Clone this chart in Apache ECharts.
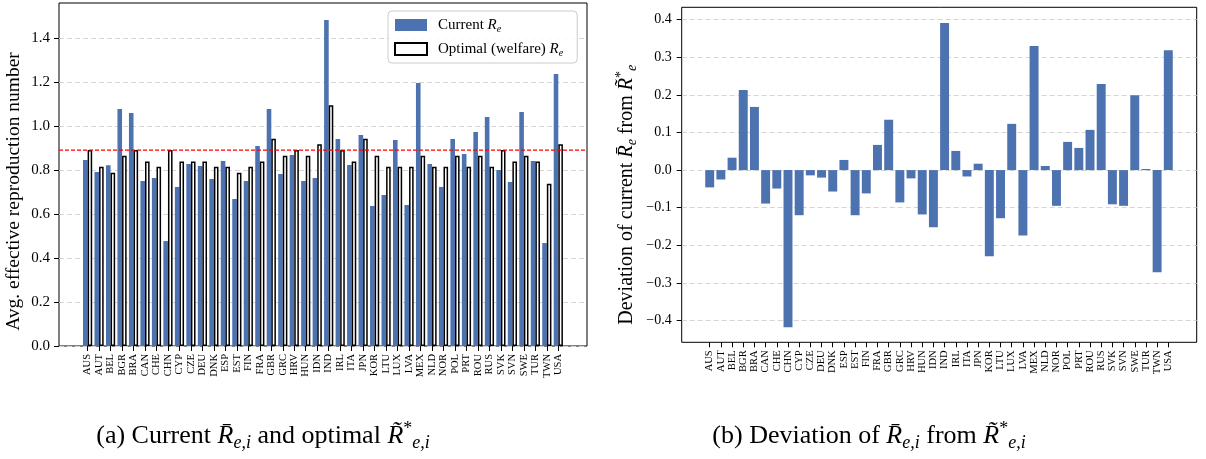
<!DOCTYPE html>
<html>
<head>
<meta charset="utf-8">
<script src="https://cdn.jsdelivr.net/npm/echarts@6/dist/echarts.min.js"></script>
<style>
html,body{margin:0;padding:0;background:#fff;}
#chart{width:1206px;height:459px;}
</style>
</head>
<body>
<div id="chart"></div>
<script>
const countries = ['AUS','AUT','BEL','BGR','BRA','CAN','CHE','CHN','CYP','CZE','DEU','DNK','ESP','EST','FIN','FRA','GBR','GRC','HRV','HUN','IDN','IND','IRL','ITA','JPN','KOR','LTU','LUX','LVA','MEX','NLD','NOR','POL','PRT','ROU','RUS','SVK','SVN','SWE','TUR','TWN','USA'];
const currentRe = [0.845,0.791,0.821,1.077,1.059,0.750,0.764,0.477,0.723,0.827,0.818,0.759,0.841,0.668,0.750,0.909,1.077,0.782,0.868,0.750,0.764,1.482,0.941,0.823,0.959,0.636,0.686,0.936,0.641,1.195,0.827,0.723,0.941,0.873,0.973,1.041,0.800,0.745,1.064,0.841,0.468,1.236];
const optimalRe = [0.891,0.815,0.788,0.865,0.891,0.839,0.815,0.891,0.839,0.839,0.839,0.815,0.815,0.788,0.815,0.839,0.942,0.865,0.891,0.865,0.917,1.094,0.891,0.839,0.942,0.865,0.815,0.815,0.815,0.865,0.815,0.815,0.865,0.815,0.865,0.815,0.891,0.839,0.865,0.839,0.738,0.917];
const deviation = [-0.046,-0.025,0.033,0.213,0.168,-0.089,-0.049,-0.418,-0.120,-0.014,-0.020,-0.057,0.027,-0.120,-0.062,0.067,0.134,-0.086,-0.022,-0.118,-0.152,0.391,0.051,-0.017,0.017,-0.229,-0.128,0.123,-0.174,0.330,0.011,-0.095,0.075,0.059,0.107,0.229,-0.091,-0.095,0.199,0.003,-0.272,0.319];
const thresholdRe = 0.89;
const leftTicks = [0,0.2,0.4,0.6,0.8,1.0,1.2,1.4];
const rightTicks = [-0.4,-0.3,-0.2,-0.1,0,0.1,0.2,0.3,0.4];

const SERIF = 'Liberation Serif';
const BLUE = '#4c72b0';
const gridLine = {show:true, lineStyle:{color:'#d4d4d4', type:[5,3], width:1}};
const fmtNum = v => (v < -1e-9 ? '\u2212' : '') + Math.abs(v).toFixed(1);

const mathRich = (fs, extra) => ({
  n:{fontFamily:SERIF, fontWeight:'normal', fontSize:fs, color:'#000', lineHeight:Math.round(fs*1.25)},
  i:{fontFamily:SERIF, fontWeight:'normal', fontStyle:'italic', fontSize:fs, color:'#000', lineHeight:Math.round(fs*1.25)},
  s:{fontFamily:SERIF, fontWeight:'normal', fontStyle:'italic', fontSize:Math.round(fs*0.68), color:'#000', lineHeight:Math.round(fs*0.7), padding:[Math.round(fs*0.55),0,0,0]},
  p:{fontFamily:SERIF, fontWeight:'normal', fontSize:Math.round(fs*0.68), color:'#000', lineHeight:Math.round(fs*0.7), padding:[0,0,Math.round(fs*0.55),0]},
  g:{fontFamily:SERIF, fontWeight:'normal', fontSize:fs, color:'#000', lineHeight:Math.round(fs*1.25), padding:[0,0,0,6]},
  e:{fontFamily:SERIF, fontWeight:'normal', fontStyle:'italic', fontSize:Math.round(fs*0.68), color:'#000', lineHeight:Math.round(fs*0.7), padding:[Math.round(fs*0.55),extra||0,0,0]}
});

const chart = echarts.init(document.getElementById('chart'), null, {renderer:'canvas'});
const option = {
  animation:false,
  backgroundColor:'#fff',
  title:[
    {left:258, top:415, textAlign:'center',
     text:'{n|(a) Current }{i|R\u0304}{s|e,i}{n| and optimal }{i|R\u0303}{p|*}{s|e,i}',
     textStyle:{fontWeight:'normal', rich:mathRich(26)}},
    {left:864, top:415, textAlign:'center',
     text:'{n|(b) Deviation of }{i|R\u0304}{s|e,i}{n| from }{i|R\u0303}{p|*}{s|e,i}',
     textStyle:{fontWeight:'normal', rich:mathRich(26)}}
  ],
  legend:{
    left:388, top:11, orient:'vertical', itemWidth:32, itemHeight:12, itemGap:6,
    padding:[5,14,5,6], borderColor:'#cccccc', borderWidth:1, borderRadius:4,
    backgroundColor:'rgba(255,255,255,0.85)',
    data:[{name:'Current', icon:'rect'},{name:'Optimal', icon:'rect'}],
    formatter: name => name === 'Current'
      ? '{g|Current }{i|R}{s|e}'
      : '{g|Optimal (welfare) }{i|R}{s|e}',
    textStyle:{rich:mathRich(15)}
  },
  grid:[
    {left:59, top:3, width:528, height:343, show:true, borderColor:'#000', borderWidth:1, backgroundColor:'transparent'},
    {left:81.86, top:3, width:482.2, height:343},
    {left:681.7, top:7.3, width:515, height:335, show:true, borderColor:'#000', borderWidth:1, backgroundColor:'transparent'},
    {left:704.1, top:7.3, width:469.8, height:335}
  ],
  xAxis:[
    {gridIndex:0, type:'value', min:0, max:1, show:false},
    {gridIndex:1, type:'category', data:countries,
     axisLine:{show:false, onZero:false},
     axisTick:{show:true, alignWithLabel:true, interval:0, length:5, lineStyle:{color:'#000'}},
     axisLabel:{interval:0, rotate:90, margin:8, fontFamily:SERIF, fontSize:10.5, color:'#000'}},
    {gridIndex:2, type:'value', min:0, max:1, show:false},
    {gridIndex:3, type:'category', data:countries,
     axisLine:{show:false, onZero:false},
     axisTick:{show:true, alignWithLabel:true, interval:0, length:5, lineStyle:{color:'#000'}},
     axisLabel:{interval:0, rotate:90, margin:8, fontFamily:SERIF, fontSize:10.5, color:'#000'}}
  ],
  yAxis:[
    {gridIndex:0, type:'value', min:0, max:1.559, splitNumber:8,
     axisLine:{show:false},
     axisTick:{show:true, length:5, customValues:leftTicks, lineStyle:{color:'#000'}},
     axisLabel:{customValues:leftTicks, formatter:fmtNum, margin:9, fontFamily:SERIF, fontSize:15, color:'#000'},
     splitLine:gridLine,
     name:'Avg. effective reproduction number', nameLocation:'middle', nameGap:35,
     nameTextStyle:{fontFamily:SERIF, fontSize:19.5, color:'#000', padding:[0,34,0,0]}},
    {gridIndex:1, type:'value', min:0, max:1.559, show:false, splitLine:{show:false}},
    {gridIndex:2, type:'value', min:-0.458, max:0.433, splitNumber:9,
     axisLine:{show:false},
     axisTick:{show:true, length:5, customValues:rightTicks, lineStyle:{color:'#000'}},
     axisLabel:{customValues:rightTicks, formatter:fmtNum, margin:10, fontFamily:SERIF, fontSize:14, color:'#000'},
     splitLine:gridLine,
     name:'{n|Deviation of current }{i|R\u0304}{s|e}{n| from }{i|R\u0303}{p|*}{e|e}', nameLocation:'middle', nameGap:42,
     nameTextStyle:{rich:mathRich(20, 40)}},
    {gridIndex:3, type:'value', min:-0.458, max:0.433, show:false, splitLine:{show:false}}
  ],
  series:[
    {name:'Current', type:'bar', xAxisIndex:1, yAxisIndex:1, data:currentRe,
     barGap:'0%', barCategoryGap:'20%', itemStyle:{color:BLUE}, z:2},
    {name:'Optimal', type:'bar', xAxisIndex:1, yAxisIndex:1, data:optimalRe,
     barGap:'0%', barCategoryGap:'20%', itemStyle:{color:'#fff', borderColor:'#000', borderWidth:1.5}, z:2},
    {name:'threshold', type:'line', xAxisIndex:0, yAxisIndex:0,
     data:[[0,thresholdRe],[1,thresholdRe]], symbol:'none', silent:true, z:5,
     lineStyle:{color:'#ff0000', width:1.2, type:[4,2]}},
    {name:'Deviation', type:'bar', xAxisIndex:3, yAxisIndex:3, data:deviation,
     barWidth:'80%', itemStyle:{color:BLUE}, z:2}
  ]
};
chart.setOption(option);
</script>
</body>
</html>
